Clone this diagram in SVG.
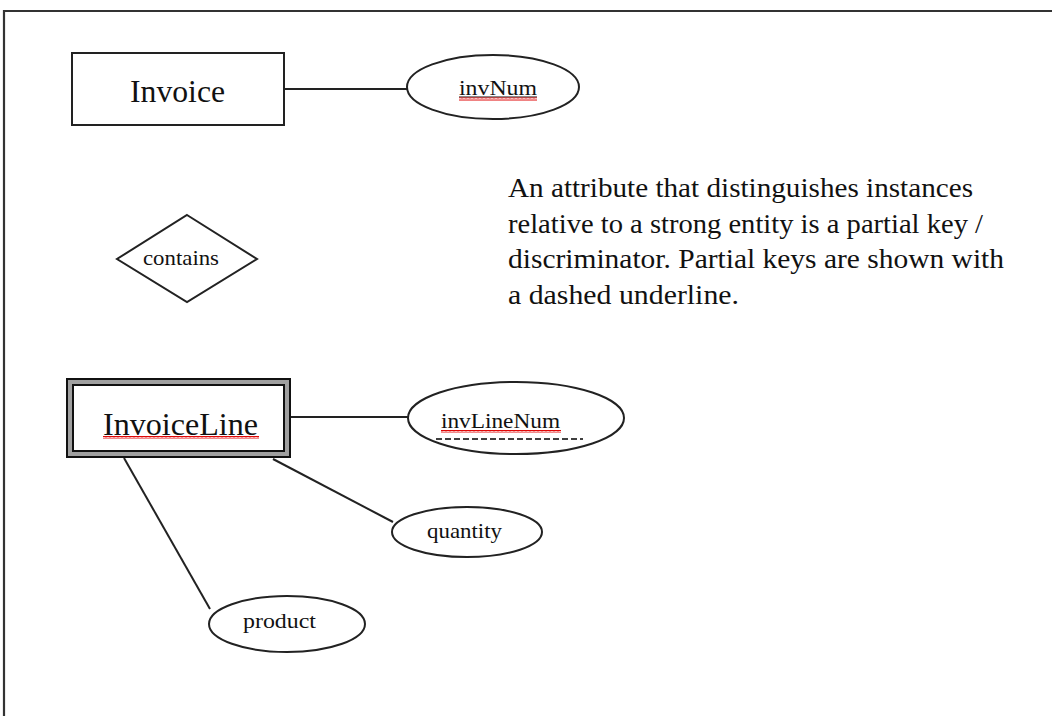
<svg xmlns="http://www.w3.org/2000/svg" width="1052" height="716" viewBox="0 0 1052 716">
<style>
.shape{fill:#fff;stroke:#222;stroke-width:2}
.conn{stroke:#222;stroke-width:2;fill:none}
.big{font-family:"Liberation Serif","Times New Roman",serif;font-size:32px;fill:#111}
.attr{font-family:"Liberation Serif","Times New Roman",serif;font-size:22px;fill:#111}
.note{font-family:"Liberation Serif","Times New Roman",serif;font-size:28px;fill:#111}
.sq{fill:url(#squig)}
</style>
<defs>
<pattern id="squig" x="0" y="0" width="4" height="3" patternUnits="userSpaceOnUse">
<path d="M0,2.2 L1,0.8 L2,2.2 L3,0.8 L4,2.2" fill="none" stroke="#e00000" stroke-width="1.1"/>
</pattern>
</defs>
<rect width="1052" height="716" fill="#fff"/>
<path d="M4,716 V11 H1052" fill="none" stroke="#333" stroke-width="2.2"/>

<g id="connectors">
<line class="conn" x1="284" y1="89" x2="408" y2="89"/>
<line class="conn" x1="290" y1="417" x2="408" y2="417"/>
<line class="conn" x1="273" y1="459" x2="393" y2="522"/>
<line class="conn" x1="124" y1="458" x2="210" y2="609"/>
</g>

<g id="invoice">
<rect class="shape" x="72" y="53" width="212" height="72"/>
<text class="big" x="130" y="102" textLength="95" lengthAdjust="spacingAndGlyphs">Invoice</text>
</g>

<g id="invNum">
<ellipse class="shape" cx="493" cy="87" rx="86" ry="32"/>
<text class="attr" x="459" y="95" textLength="78" lengthAdjust="spacingAndGlyphs">invNum</text>
<line x1="459" y1="97" x2="537" y2="97" stroke="#111" stroke-width="1"/>
<rect class="sq" x="459" y="97.5" width="78" height="3"/>
</g>

<g id="contains">
<polygon class="shape" points="187,215 257,259 187,302 117,259"/>
<text class="attr" x="143" y="265" textLength="76" lengthAdjust="spacingAndGlyphs">contains</text>
</g>

<g id="note">
<text class="note" x="508" y="197" textLength="465" lengthAdjust="spacingAndGlyphs">An attribute that distinguishes instances</text>
<text class="note" x="508" y="233" textLength="475" lengthAdjust="spacingAndGlyphs">relative to a strong entity is a partial key /</text>
<text class="note" x="508" y="268" textLength="496" lengthAdjust="spacingAndGlyphs">discriminator. Partial keys are shown with</text>
<text class="note" x="508" y="304" textLength="231" lengthAdjust="spacingAndGlyphs">a dashed underline.</text>
</g>

<g id="invoiceLine">
<rect x="67" y="379" width="223" height="78" fill="#a0a0a0" stroke="#111" stroke-width="2"/>
<rect x="73" y="385" width="211" height="66" fill="#fff" stroke="#111" stroke-width="2"/>
<text class="big" x="103" y="435" textLength="155" lengthAdjust="spacingAndGlyphs">InvoiceLine</text>
<rect class="sq" x="103" y="436" width="156" height="3"/>
</g>

<g id="invLineNum">
<ellipse class="shape" cx="516" cy="418" rx="108" ry="36"/>
<text class="attr" x="441" y="428" textLength="119" lengthAdjust="spacingAndGlyphs">invLineNum</text>
<rect class="sq" x="441" y="430" width="120" height="3"/>
<line x1="436" y1="439" x2="583" y2="439" stroke="#000" stroke-width="1.6" stroke-dasharray="6,3"/>
</g>

<g id="quantity">
<ellipse class="shape" cx="467" cy="532" rx="75" ry="25"/>
<text class="attr" x="427" y="538" textLength="75" lengthAdjust="spacingAndGlyphs">quantity</text>
</g>

<g id="product">
<ellipse class="shape" cx="287" cy="624" rx="78" ry="28"/>
<text class="attr" x="243" y="628" textLength="73" lengthAdjust="spacingAndGlyphs">product</text>
</g>
</svg>
